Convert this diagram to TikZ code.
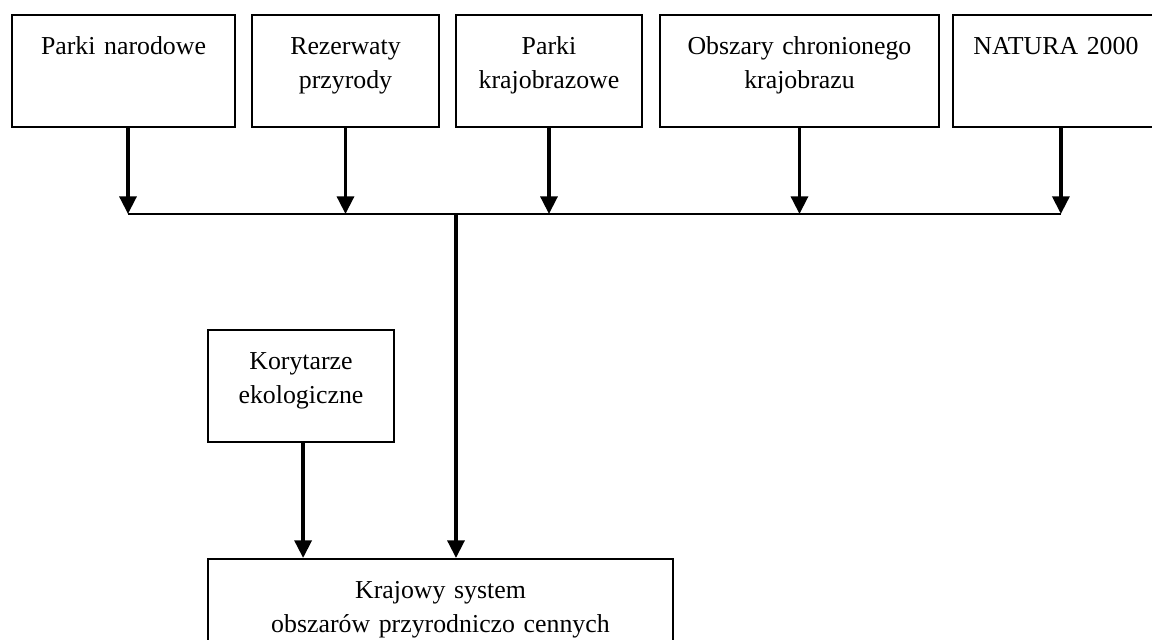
\documentclass[tikz,border=0pt]{standalone}
\usepackage{fontspec}
\setmainfont{Liberation Serif}
\usetikzlibrary{arrows.meta}

\begin{document}
\begin{tikzpicture}[scale=0.2,
  box/.style={draw=black, line width=0.6pt, anchor=north, inner xsep=0pt, inner ysep=0pt,
    align=center, text height=11.1pt, text depth=20.8pt, font=\fontsize{7.35}{9.7}\selectfont},
  arr/.style={black, line width=1pt, -{Triangle[length=5pt,width=4.8pt]}}]
\useasboundingbox (0,0) rectangle (57.6,-32);
% forms of protection
\node [box, text width=63.4pt] (pn) at (6.175,-0.7) {Parki narodowe};
\node [box, text width=53.2pt] (rp) at (17.275,-0.7) {Rezerwaty\\przyrody};
\node [box, text width=52.9pt] (pk) at (27.45,-0.7) {Parki\\krajobrazowe};
\node [box, text width=79.4pt] (ochk) at (39.975,-0.7) {Obszary chronionego\\krajobrazu};
\node [box, text width=58.6pt] (nat) at (52.8,-0.7) {NATURA 2000};
\node [box, text width=52.9pt] (kor) at (15.05,-16.45) {Korytarze\\ekologiczne};
\node [box, text width=132.3pt] (ksop) at (22.025,-27.9) {Krajowy system\\obszarów przyrodniczo cennych};
\coordinate (bus) at (22.8,-10.7);
% arrows down to the bus
\draw [arr] ([xshift=6.4pt]pn.south) -- ([xshift=6.4pt]pn.south |- bus);
\draw [arr] (rp.south) -- (rp.south |- bus);
\draw [arr] (pk.south) -- (pk.south |- bus);
\draw [arr] (ochk.south) -- (ochk.south |- bus);
\draw [arr] ([xshift=7pt]nat.south) -- ([xshift=7pt]nat.south |- bus);
\draw [black, line width=0.6pt] ([xshift=6.4pt]pn.south |- bus) -- ([xshift=7pt]nat.south |- bus);
% into the national system
\draw [arr] (bus) -- (bus |- ksop.north);
\draw [arr] ([xshift=3pt]kor.south) -- ([xshift=3pt]kor.south |- ksop.north);
\end{tikzpicture}
\end{document}
